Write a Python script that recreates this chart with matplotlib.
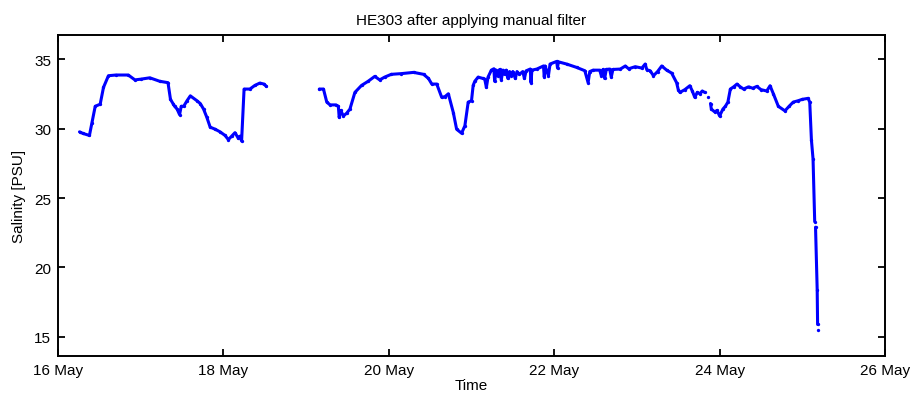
import numpy as np
import matplotlib
matplotlib.use("Agg")
import matplotlib.pyplot as plt

plt.rcParams['font.family'] = ['Liberation Sans', 'DejaVu Sans']

nan = np.nan
# time in fractional day of May
time_day = [
    16.26, 16.30, 16.38, 16.41, 16.45, 16.51, 16.55, 16.61, 16.70, 16.85, 16.93, 17.00,
    17.11, 17.23, 17.33, 17.36, 17.39, 17.41, 17.44, 17.47, 17.49, 17.52, 17.56, 17.60,
    17.68, 17.72, 17.76, 17.80, 17.84, 17.90, 17.96, 18.02, 18.06, 18.10, 18.14, 18.18,
    18.20, 18.22, 18.25, 18.32, 18.38, 18.44, 18.49, 18.52, 18.85,
    19.16, 19.21, 19.25, 19.29, 19.36, 19.39, 19.40, 19.42, 19.45, 19.49, 19.53, 19.59,
    19.67, 19.75, 19.83, 19.89, 19.95, 20.03, 20.15, 20.30, 20.42, 20.48, 20.52, 20.58,
    20.64, 20.68, 20.72, 20.78, 20.82, 20.88, 20.92, 20.96, 21.00, 21.02, 21.04, 21.08,
    21.14, 21.16, 21.18, 21.20, 21.24, 21.27, 21.28, 21.30, 21.32, 21.34, 21.36, 21.38,
    21.40, 21.42, 21.44, 21.46, 21.48, 21.50, 21.53, 21.55, 21.58, 21.62, 21.64, 21.66,
    21.71, 21.72, 21.73, 21.79, 21.87, 21.88, 21.89, 21.93, 21.95, 22.03, 22.04, 22.05,
    22.15, 22.27, 22.37, 22.41, 22.43, 22.47, 22.55, 22.57, 22.59, 22.61, 22.63, 22.67,
    22.69, 22.71, 22.80, 22.86, 22.90, 22.98, 23.06, 23.10, 23.12, 23.16, 23.20, 23.25,
    23.30, 23.36, 23.42, 23.48, 23.50, 23.52, 23.58, 23.64, 23.67, 23.70, 23.73, 23.76,
    23.79, 23.82, 23.84, 23.86, 23.875,
    23.89, 23.90, 23.94, 23.97, 24.00, 24.04, 24.07, 24.10, 24.13, 24.17, 24.21, 24.25,
    24.29, 24.35, 24.40, 24.45, 24.50, 24.57, 24.61, 24.65, 24.71, 24.79, 24.84, 24.89,
    24.95, 25.00, 25.07, 25.09, 25.11, 25.13, 25.15, 25.155,
    25.16, 25.18, 25.185, 25.187, 25.19,
]
salinity = [
    29.76, 29.65, 29.5, 30.4, 31.6, 31.75, 32.96, 33.8, 33.85, 33.85, 33.5, 33.55,
    33.65, 33.4, 33.3, 32.1, 31.8, 31.6, 31.4, 31.0, 31.6, 31.6, 32.0, 32.35,
    32.0, 31.8, 31.4, 30.8, 30.1, 29.95, 29.76, 29.5, 29.2, 29.45, 29.7, 29.3,
    29.45, 29.1, 32.84, 32.84, 33.1, 33.27, 33.2, 33.03, nan,
    32.84, 32.84, 31.9, 31.7, 31.7, 31.6, 30.8, 31.3, 30.9, 31.1, 31.4, 32.6,
    33.1, 33.4, 33.75, 33.5, 33.7, 33.9, 33.95, 34.04, 33.9, 33.6, 33.2, 33.2,
    32.24, 32.3, 32.5, 31.15, 29.95, 29.66, 30.2, 31.9, 32.0, 33.1, 33.4, 33.7,
    33.6, 33.55, 32.96, 33.7, 34.2, 34.3, 33.4, 34.2, 33.8, 34.25, 33.5, 34.2,
    33.9, 34.2, 33.6, 34.1, 33.8, 34.1, 33.6, 34.1, 33.9, 34.1, 33.6, 34.15,
    34.28, 33.3, 34.2, 34.28, 34.5, 33.7, 34.5, 33.8, 34.64, 34.83, 34.35, 34.8,
    34.64, 34.4, 34.16, 33.3, 34.1, 34.2, 34.2, 33.8, 34.25, 33.6, 34.25, 34.28,
    33.7, 34.25, 34.28, 34.5, 34.3, 34.45, 34.35, 34.64, 34.23, 34.16, 33.8, 34.1,
    34.5, 34.2, 33.99, 33.3, 32.8, 32.6, 32.8, 33.08, 32.7, 32.24, 32.6, 32.5,
    32.7, 32.6, nan, 32.3, nan,
    31.8, 31.4, 31.2, 31.3, 30.9, 31.4, 31.6, 31.9, 32.84, 33.0, 33.2, 33.0,
    32.84, 33.0, 32.9, 33.03, 32.8, 32.7, 33.08, 32.5, 31.6, 31.27, 31.6, 31.9,
    32.0, 32.1, 32.17, 31.9, 29.2, 27.8, 23.3, nan,
    22.9, 18.4, 15.9, nan, 15.5,
]

x_ticks = [16, 18, 20, 22, 24, 26]
x_tick_labels = ['16 May', '18 May', '20 May', '22 May', '24 May', '26 May']
y_ticks = [15, 20, 25, 30, 35]

fig = plt.figure(figsize=(9.18, 4.06), dpi=100)
ax = fig.add_axes([58/918, 49/406, 827/918, 321/406])
ax.plot(time_day, salinity, color=(0, 0, 1), lw=2.2, marker='o', ms=2.4, mew=0,
        solid_joinstyle='round', solid_capstyle='round')
ax.set_xlim(16, 26)
ax.set_ylim(13.63, 36.73)
ax.set_xticks(x_ticks)
ax.set_xticklabels(x_tick_labels)
ax.set_yticks(y_ticks)
ax.tick_params(direction='in', length=5, width=1.3, top=True, right=True,
               labelsize=11, pad=5, colors='black')
for s in ax.spines.values():
    s.set_linewidth(1.4)
ax.set_xlabel('Time', fontsize=11, labelpad=1)
ax.set_ylabel('Salinity [PSU]', fontsize=11, labelpad=6)
ax.set_title('HE303 after applying manual filter', fontsize=11, pad=8)
fig.savefig('out.png', dpi=100)
